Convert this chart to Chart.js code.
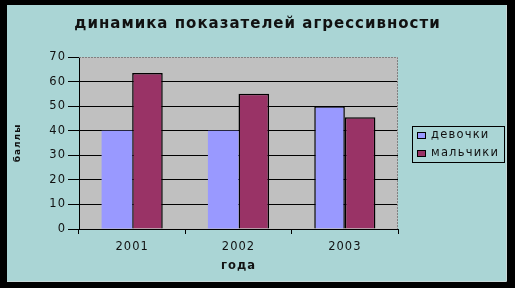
<!DOCTYPE html>
<html>
<head>
<meta charset="utf-8">
<script src="https://cdn.jsdelivr.net/npm/chart.js@4/dist/chart.umd.min.js"></script>
<style>
  html, body { margin: 0; padding: 0; background: #000; }
  #c { display: block; }
</style>
</head>
<body>
<canvas id="c" width="515" height="288"></canvas>
<script>
// данные с картинки
const years = ['2001', '2002', '2003'];
const girls = [40, 40, 50];
const boys = [63.5, 55, 45.5];
const seriesNames = ['девочки', 'мальчики'];
const yTicks = [0, 10, 20, 30, 40, 50, 60, 70];

const FONT = '"DejaVu Sans", "Liberation Sans", Arial, sans-serif';
const TEAL = '#aad5d5';
const TEXT = '#111111';
const SPACING = '1px';

// рамка слайда + серый фон области построения
const framePlugin = {
    id: 'frame',
    beforeUpdate(chart) { chart.ctx.letterSpacing = SPACING; },
    beforeDraw(chart) {
        const c = chart.ctx;
        const a = chart.chartArea;
        c.letterSpacing = SPACING; // разреженный текст, как в оригинале
        c.save();
        c.fillStyle = '#000';
        c.fillRect(0, 0, 515, 288);
        c.fillStyle = TEAL;
        c.fillRect(7, 5, 499, 276);
        c.strokeStyle = '#c8d8d8';
        c.lineWidth = 1;
        c.beginPath();
        c.moveTo(506.5, 5);
        c.lineTo(506.5, 281.5);
        c.lineTo(7, 281.5);
        c.stroke();
        c.fillStyle = '#c0c0c0';
        c.fillRect(a.left, a.top, a.right - a.left, a.bottom - a.top);
        c.restore();
    },
    beforeDatasetsDraw(chart) {
        // верхняя и правая граница — серые пунктиром
        const c = chart.ctx;
        const a = chart.chartArea;
        c.save();
        c.strokeStyle = '#808080';
        c.lineWidth = 1;
        c.setLineDash([2, 1]);
        c.beginPath();
        c.moveTo(a.left, a.top + 0.5);
        c.lineTo(a.right - 0.5, a.top + 0.5);
        c.lineTo(a.right - 0.5, a.bottom);
        c.stroke();
        c.restore();
    }
};

// легенда в рамке справа
const boxLegend = {
    id: 'boxLegend',
    afterDraw(chart) {
        const c = chart.ctx;
        c.save();
        c.letterSpacing = '1.2px';
        c.fillStyle = TEAL;
        c.fillRect(412, 126, 92, 36);
        c.strokeStyle = '#000';
        c.lineWidth = 1;
        c.strokeRect(412.5, 126.5, 92, 36);
        c.font = '11.5px ' + FONT;
        c.textBaseline = 'middle';
        chart.data.datasets.forEach((ds, i) => {
            const y = 135 + i * 18;
            c.fillStyle = ds.backgroundColor;
            c.fillRect(417, y - 3, 8, 6);
            c.strokeRect(417.5, y - 2.5, 8, 6);
            c.fillStyle = TEXT;
            c.fillText(ds.label, 431, y);
        });
        c.restore();
    }
};

const chart = new Chart(document.getElementById('c'), {
    type: 'bar',
    data: {
        labels: years,
        datasets: [
            {
                label: seriesNames[0],
                data: girls,
                backgroundColor: '#9999ff',
                borderColor: '#000',
                borderWidth: [0, 0, 1.5]
            },
            {
                label: seriesNames[1],
                data: boys,
                backgroundColor: '#993366',
                borderColor: '#000',
                borderWidth: 1.5
            }
        ]
    },
    options: {
        responsive: false,
        animation: false,
        categoryPercentage: 0.575,
        barPercentage: 1,
        layout: { padding: 0 },
        plugins: {
            legend: { display: false },
            tooltip: { enabled: false },
            title: {
                display: true,
                text: 'динамика показателей агрессивности',
                color: TEXT,
                font: { family: FONT, size: 15, weight: 'bold' },
                padding: { top: 15, bottom: 24 }
            }
        },
        scales: {
            x: {
                ticks: { color: TEXT, font: { family: FONT, size: 11.5 }, padding: 6 },
                grid: { offset: true, drawOnChartArea: false, color: '#000', tickLength: 5 },
                border: { color: '#000' },
                title: {
                    display: true,
                    text: 'года',
                    color: TEXT,
                    font: { family: FONT, size: 11.5, weight: 'bold' },
                    padding: { top: 0, bottom: 15 }
                },
                afterFit(s) { s.height = 59; }
            },
            y: {
                min: 0,
                max: 70,
                afterBuildTicks(s) { s.ticks = yTicks.map(v => ({ value: v })); },
                ticks: { color: TEXT, font: { family: FONT, size: 11.5 }, padding: 2 },
                grid: {
                    color: ctx => (ctx.tick && ctx.tick.value === 70) ? 'rgba(0,0,0,0)' : '#000',
                    tickColor: '#000',
                    tickLength: 11
                },
                border: { color: '#000' },
                title: {
                    display: true,
                    text: 'баллы',
                    color: TEXT,
                    font: { family: FONT, size: 9, weight: 'bold' },
                    padding: { top: 12, bottom: 0 }
                },
                afterFit(s) { s.width = 79; }
            },
            // пустая ось справа — место под легенду
            y2: {
                type: 'linear',
                position: 'right',
                ticks: { display: false },
                grid: { display: false },
                border: { display: false },
                afterFit(s) { s.width = 117; }
            }
        }
    },
    plugins: [framePlugin, boxLegend]
});
</script>
</body>
</html>
